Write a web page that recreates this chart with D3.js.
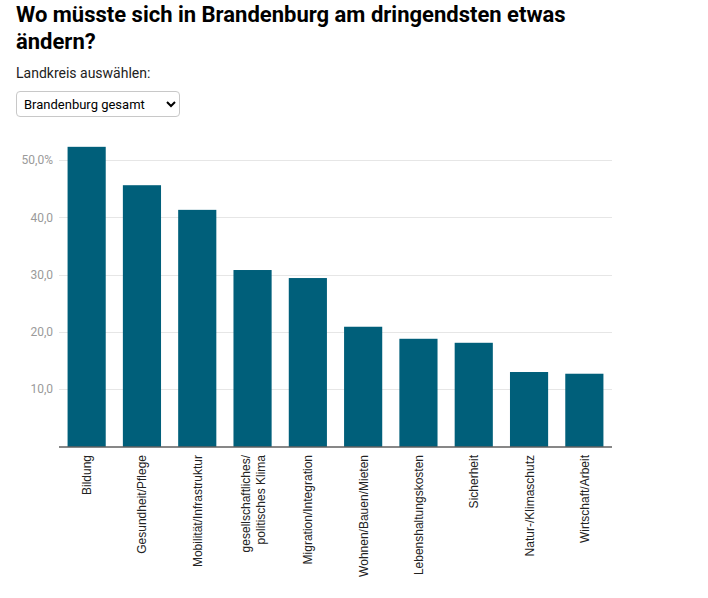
<!DOCTYPE html>
<html><head><meta charset="utf-8">
<script src="https://cdn.jsdelivr.net/npm/d3@7"></script>
<style>
body{margin:0;background:#fff;width:708px;height:598px;overflow:hidden;position:relative;font-family:Roboto,"Liberation Sans",sans-serif;}
h1{position:absolute;left:16px;top:1px;margin:0;width:580px;font-size:22px;line-height:27px;font-weight:700;color:#000;font-family:Roboto,sans-serif;}
#lbl{position:absolute;left:16px;top:65px;font-size:14px;color:#222;}
select{position:absolute;left:16px;top:91px;width:164px;height:26px;font-size:13px;border:1px solid #c8c8c8;border-radius:4px;background:#fff;padding:0 3px;font-family:Roboto,sans-serif;color:#000;}
svg{position:absolute;left:0;top:0;}
</style></head>
<body>
<svg id="chart" width="708" height="598"></svg>
<h1>Wo müsste sich in Brandenburg am dringendsten etwas ändern?</h1>
<div id="lbl">Landkreis auswählen:</div>
<select><option>Brandenburg gesamt</option></select>
<script>
const categories = ["Bildung","Gesundheit/Pflege","Mobilität/Infrastruktur","gesellschaftliches/\npolitisches Klima","Migration/Integration","Wohnen/Bauen/Mieten","Lebenshaltungskosten","Sicherheit","Natur-/Klimaschutz","Wirtschaft/Arbeit"];
const values = [52.3,45.6,41.3,30.8,29.4,20.9,18.8,18.1,13.0,12.7];
const yTicks = [10,20,30,40,50];

const svg = d3.select("#chart");
const mLeft = 59, mRight = 612, mBottom = 446.5;
const x = d3.scaleBand().domain(categories).range([mLeft,mRight]).paddingInner(0.31).paddingOuter(0.155);
const y = d3.scaleLinear().domain([0,55.3]).range([mBottom, mBottom - 55.3*5.73]);

const g = svg.append("g");
g.selectAll("line.grid").data(yTicks).enter().append("line")
  .attr("x1",mLeft).attr("x2",mRight)
  .attr("y1",d=>Math.round(y(d))+0.5).attr("y2",d=>Math.round(y(d))+0.5)
  .attr("stroke","#e6e6e6").attr("stroke-width",1);
g.selectAll("text.yt").data(yTicks).enter().append("text")
  .attr("x",53).attr("y",d=>y(d)).attr("dy","0.35em")
  .attr("text-anchor","end").attr("fill","#9a9a9a")
  .style("font-family","Roboto,sans-serif").style("font-size","12px")
  .text(d=>d3.format(".1f")(d).replace(".",",")+(d===50?"%":""));

svg.append("g").selectAll("rect").data(values).enter().append("rect")
  .attr("x",(d,i)=>x(categories[i]))
  .attr("width",x.bandwidth())
  .attr("y",d=>y(d))
  .attr("height",d=>mBottom - y(d))
  .attr("fill","#005f7a");

svg.append("line").attr("x1",mLeft).attr("x2",mRight).attr("y1",mBottom+0.5).attr("y2",mBottom+0.5)
  .attr("stroke","#111").attr("stroke-width",1.2);

categories.forEach(c=>{
  const lines = c.split("\n");
  const cx = x(c) + x.bandwidth()/2;
  const n = lines.length;
  lines.forEach((ln,j)=>{
    const off = (j - (n-1)/2)*15;
    svg.append("text")
      .attr("transform",`translate(${cx+off+4.5},455) rotate(-90)`)
      .attr("text-anchor","end")
      .attr("fill","#222")
      .style("font-family","'Liberation Sans',Arial,sans-serif").style("font-size","12px")
      .text(ln);
  });
});
</script>
</body></html>
